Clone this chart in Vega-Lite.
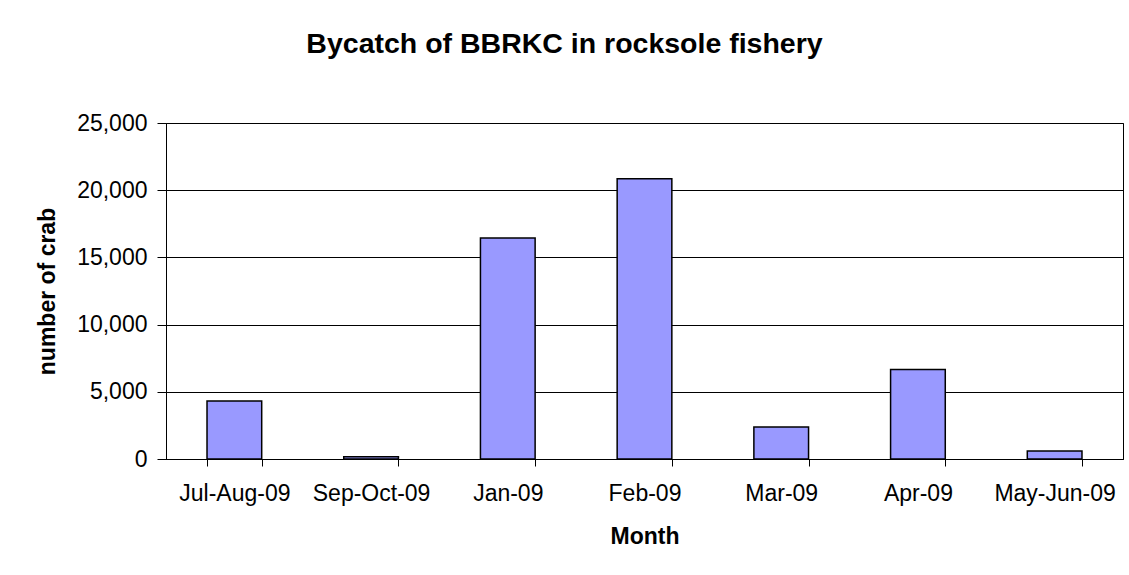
{
  "$schema": "https://vega.github.io/schema/vega-lite/v6.json",
  "width": 957,
  "height": 336,
  "autosize": {"type": "none"},
  "padding": {"left": 166, "top": 123, "right": 6, "bottom": 116},
  "background": "white",
  "title": {
    "text": "Bycatch of BBRKC in rocksole fishery",
    "font": "Liberation Sans",
    "fontSize": 28.5,
    "fontWeight": "bold",
    "color": "black",
    "anchor": "middle",
    "baseline": "alphabetic",
    "offset": 31,
    "dx": -80
  },
  "data": {
    "values": [
      {"month": "Jul-Aug-09", "crab": 4320},
      {"month": "Sep-Oct-09", "crab": 170},
      {"month": "Jan-09", "crab": 16450},
      {"month": "Feb-09", "crab": 20860},
      {"month": "Mar-09", "crab": 2380},
      {"month": "Apr-09", "crab": 6660},
      {"month": "May-Jun-09", "crab": 600}
    ]
  },
  "mark": {"type": "bar", "fill": "#9999FF", "stroke": "black", "strokeWidth": 1.5},
  "encoding": {
    "x": {
      "field": "month",
      "type": "nominal",
      "sort": null,
      "scale": {"paddingInner": 0.6, "paddingOuter": 0.3},
      "axis": {
        "title": "Month",
        "labelAngle": 0,
        "tickBand": "extent",
        "tickSize": 7,
        "tickColor": "black",
        "domainColor": "black",
        "labelPadding": 16,
        "titlePadding": 20,
        "grid": false
      }
    },
    "y": {
      "field": "crab",
      "type": "quantitative",
      "scale": {"domain": [0, 25000]},
      "axis": {
        "title": "number of crab",
        "values": [0, 5000, 10000, 15000, 20000, 25000],
        "format": ",d",
        "formatType": "number",
        "tickSize": 9,
        "tickColor": "black",
        "domainColor": "black",
        "gridColor": "black",
        "gridOpacity": 1,
        "labelPadding": 10,
        "titlePadding": 17
      }
    }
  },
  "config": {
    "view": {"stroke": "black", "strokeWidth": 1},
    "axis": {
      "labelFont": "Liberation Sans",
      "labelFontSize": 23,
      "labelColor": "black",
      "titleFont": "Liberation Sans",
      "titleFontSize": 23,
      "titleFontWeight": "bold",
      "titleColor": "black",
      "domainWidth": 1,
      "tickWidth": 1
    }
  }
}
